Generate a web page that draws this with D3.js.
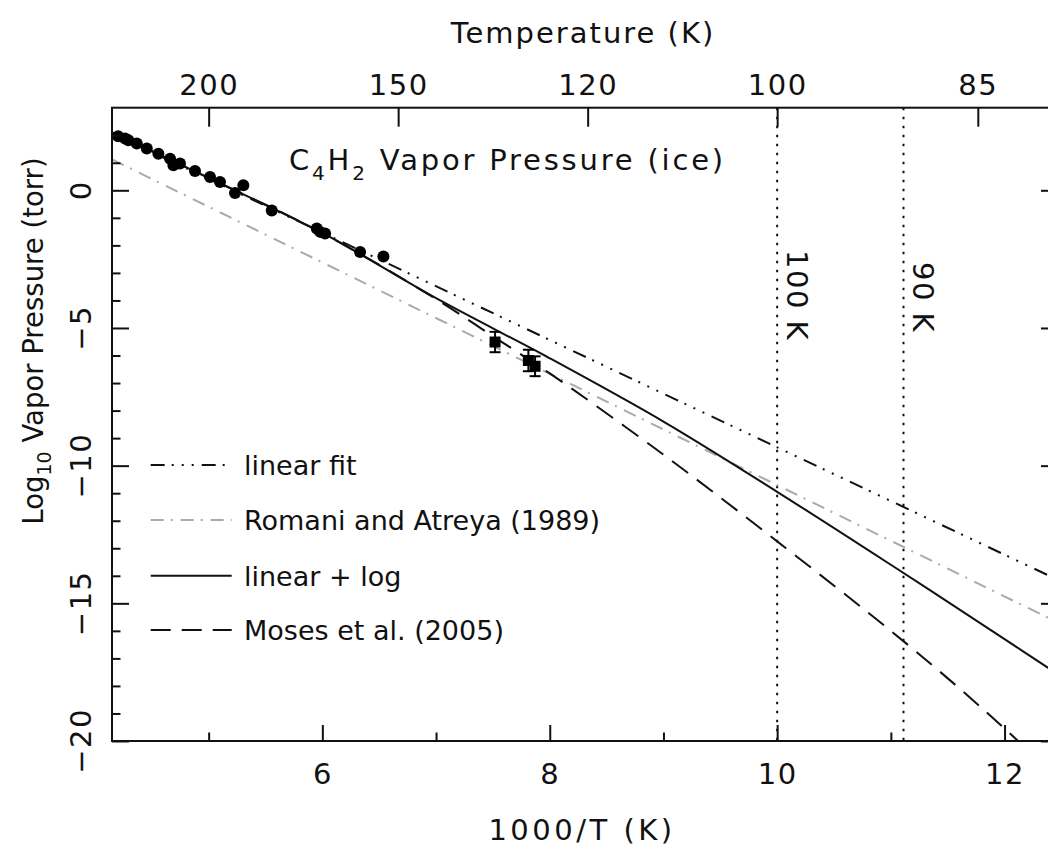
<!DOCTYPE html>
<html>
<head>
<meta charset="utf-8">
<script src="https://cdn.jsdelivr.net/npm/d3@7"></script>
<style>
  html, body { margin: 0; padding: 0; background: #fff; }
  svg { display: block; }
  text { font-family: "DejaVu Sans", sans-serif; fill: #111; }
</style>
</head>
<body>
<svg id="chart" width="1048" height="859"></svg>
<script>
// Measured vapour pressure of C4H2 ice (x = 1000/T, y = log10 P in torr)
const labX = [4.204, 4.265, 4.294, 4.368, 4.456, 4.558, 4.661, 4.690, 4.748, 4.880,
              5.012, 5.100, 5.232, 5.305, 5.555, 5.951, 5.980, 6.024, 6.332, 6.537];
const labY = [1.96, 1.88, 1.82, 1.70, 1.52, 1.33, 1.15, 0.91, 0.97, 0.70,
              0.48, 0.30, -0.10, 0.18, -0.73, -1.39, -1.51, -1.57, -2.24, -2.40];

// Low-temperature measurements with error bars
const lowX = [7.519, 7.812, 7.871];
const lowY = [-5.51, -6.18, -6.39];
const lowErr = [0.37, 0.39, 0.36];

// Fitted and published vapour-pressure curves
const linearFitX = [4.15, 12.47];
const linearFitY = [2.07, -14.15];
const romaniX = [4.15, 12.47];
const romaniY = [1.12, -15.7];
const linLogX = [4.15, 5, 6, 7, 8, 9, 10, 11, 12, 12.47];
const linLogY = [2.1, 0.45, -1.55, -3.92, -6.1, -8.4, -10.95, -13.6, -16.3, -17.58];
const mosesX = [4.15, 5, 6, 7, 7.5, 8, 9, 10, 11, 11.62, 12.04, 12.3];
const mosesY = [2.1, 0.45, -1.55, -3.95, -5.3, -6.65, -9.6, -12.75, -16.0, -18.15, -19.7, -20.7];

// Axis ticks
const bottomMajor = [6, 8, 10, 12];
const bottomMinor = [5, 7, 9, 11];
const leftMajor = [0, -5, -10, -15, -20];
const leftMinor = d3.range(-19, 3).filter(v => v % 5 !== 0);
const tempTicks = [200, 150, 120, 100, 85];
const markerTemps = [100, 90];
const markerLabels = ["100 K", "90 K"];

const legendNames = ["linear fit", "Romani and Atreya (1989)", "linear + log", "Moses et al. (2005)"];

const svg = d3.select("#chart");
const plotL = 112, plotT = 107.7, plotR = 1058, plotB = 741;

const x = d3.scaleLinear().domain([4.15, 12.47]).range([plotL, plotR]);
const y = d3.scaleLinear().domain([-20, 3]).range([plotB, plotT]);

const styles = {
  linearFit: { color: "#111", dash: "14,7,2,8,2,8,2,8" },
  romani: { color: "#aaaaaa", dash: "13,7,2,8" },
  linLog: { color: "#111", dash: null },
  moses: { color: "#111", dash: "20,11" }
};

svg.append("defs").append("clipPath").attr("id", "plotClip")
  .append("rect").attr("x", plotL).attr("y", plotT)
  .attr("width", plotR - plotL).attr("height", plotB - plotT);

const plot = svg.append("g").attr("clip-path", "url(#plotClip)");

// Reference temperatures
markerTemps.forEach(t => {
  const px = x(1000 / t);
  plot.append("line")
    .attr("x1", px).attr("x2", px).attr("y1", plotT).attr("y2", plotB)
    .attr("stroke", "#111").attr("stroke-width", 2)
    .attr("stroke-dasharray", "2.5,6.5");
});

const line = d3.line().x(d => x(d[0])).y(d => y(d[1])).curve(d3.curveCatmullRom);

function drawCurve(xs, ys, st) {
  const path = plot.append("path")
    .datum(xs.map((v, i) => [v, ys[i]]))
    .attr("d", line)
    .attr("fill", "none")
    .attr("stroke", st.color)
    .attr("stroke-width", 2);
  if (st.dash) path.attr("stroke-dasharray", st.dash);
}

drawCurve(romaniX, romaniY, styles.romani);
drawCurve(linearFitX, linearFitY, styles.linearFit);
drawCurve(mosesX, mosesY, styles.moses);
drawCurve(linLogX, linLogY, styles.linLog);

// Measured points
plot.selectAll("circle.lab").data(labX.map((v, i) => [v, labY[i]]))
  .enter().append("circle")
  .attr("cx", d => x(d[0])).attr("cy", d => y(d[1])).attr("r", 6)
  .attr("fill", "#000");

const low = plot.selectAll("g.low").data(lowX.map((v, i) => [v, lowY[i], lowErr[i]]))
  .enter().append("g");
low.append("line")
  .attr("x1", d => x(d[0])).attr("x2", d => x(d[0]))
  .attr("y1", d => y(d[1] + d[2])).attr("y2", d => y(d[1] - d[2]))
  .attr("stroke", "#000").attr("stroke-width", 2);
low.append("line")
  .attr("x1", d => x(d[0]) - 5.5).attr("x2", d => x(d[0]) + 5.5)
  .attr("y1", d => y(d[1] + d[2])).attr("y2", d => y(d[1] + d[2]))
  .attr("stroke", "#000").attr("stroke-width", 2);
low.append("line")
  .attr("x1", d => x(d[0]) - 5.5).attr("x2", d => x(d[0]) + 5.5)
  .attr("y1", d => y(d[1] - d[2])).attr("y2", d => y(d[1] - d[2]))
  .attr("stroke", "#000").attr("stroke-width", 2);
low.append("rect")
  .attr("x", d => x(d[0]) - 5.5).attr("y", d => y(d[1]) - 5.5)
  .attr("width", 11).attr("height", 11).attr("fill", "#000");

// Frame
svg.append("rect").attr("x", plotL).attr("y", plotT)
  .attr("width", plotR - plotL).attr("height", plotB - plotT)
  .attr("fill", "none").attr("stroke", "#111").attr("stroke-width", 2);

// Bottom axis
svg.append("g").attr("transform", `translate(0,${plotB})`)
  .call(d3.axisBottom(x).tickValues(bottomMajor).tickSize(-16).tickPadding(22).tickFormat(d3.format("d")));
svg.append("g").attr("transform", `translate(0,${plotB})`)
  .call(d3.axisBottom(x).tickValues(bottomMinor).tickSize(-8.5).tickFormat(""));

// Top axis: temperature
svg.append("g").attr("transform", `translate(0,${plotT})`)
  .call(d3.axisTop(x).tickValues(tempTicks.map(t => 1000 / t)).tickSize(-19).tickPadding(13)
    .tickFormat(v => String(Math.round(1000 / v))));

// Left axis
svg.append("g").attr("transform", `translate(${plotL},0)`)
  .call(d3.axisLeft(y).tickValues(leftMajor).tickSize(-17).tickFormat(""));
svg.append("g").attr("transform", `translate(${plotL},0)`)
  .call(d3.axisLeft(y).tickValues(leftMinor).tickSize(-8.5).tickFormat(""));
// Right axis
svg.append("g").attr("transform", `translate(${plotR},0)`)
  .call(d3.axisRight(y).tickValues(leftMajor).tickSize(-17).tickFormat(""));
svg.append("g").attr("transform", `translate(${plotR},0)`)
  .call(d3.axisRight(y).tickValues(leftMinor).tickSize(-8.5).tickFormat(""));

svg.selectAll(".domain").remove();
svg.selectAll(".tick line").attr("stroke", "#111").attr("stroke-width", 2);
svg.selectAll(".tick text").attr("font-size", 29).attr("letter-spacing", 1.5)
  .attr("font-family", "DejaVu Sans, sans-serif").attr("fill", "#111");

// Rotated left tick labels
leftMajor.forEach(v => {
  svg.append("text")
    .attr("transform", `translate(91,${y(v)}) rotate(-90)`)
    .attr("text-anchor", "middle")
    .attr("font-size", 29).attr("letter-spacing", 1.5)
    .text(v < 0 ? "\u2212" + Math.abs(v) : String(v));
});

// Axis titles
svg.append("text").attr("x", 583).attr("y", 43)
  .attr("text-anchor", "middle").attr("font-size", 29).attr("letter-spacing", 2)
  .text("Temperature (K)");
svg.append("text").attr("x", 582).attr("y", 840)
  .attr("text-anchor", "middle").attr("font-size", 29).attr("letter-spacing", 3.5)
  .text("1000/T (K)");

const yTitle = svg.append("text")
  .attr("transform", `translate(43,341) rotate(-90)`)
  .attr("text-anchor", "middle").attr("font-size", 27.5);
yTitle.append("tspan").text("Log");
yTitle.append("tspan").attr("font-size", 19).attr("dy", 8).text("10");
yTitle.append("tspan").attr("dy", -8).text(" Vapor Pressure (torr)");

// Plot title
const title = svg.append("text").attr("x", 289).attr("y", 170)
  .attr("font-size", 29).attr("letter-spacing", 2.8);
title.append("tspan").text("C");
title.append("tspan").attr("font-size", 20).attr("dy", 10).text("4");
title.append("tspan").attr("dy", -10).text("H");
title.append("tspan").attr("font-size", 20).attr("dy", 10).text("2");
title.append("tspan").attr("dy", -10).text(" Vapor Pressure (ice)");

// Reference temperature labels
markerTemps.forEach((t, i) => {
  const px = x(1000 / t);
  svg.append("text")
    .attr("transform", `translate(${px + 10},${i === 0 ? 250 : 262}) rotate(90)`)
    .attr("font-size", 29).attr("letter-spacing", 1.5).text(markerLabels[i]);
});

// Legend
const legendStyles = [styles.linearFit, styles.romani, styles.linLog, styles.moses];
const legendRows = [465, 520, 575.7, 630];
legendNames.forEach((name, i) => {
  const st = legendStyles[i];
  const ln = svg.append("line")
    .attr("x1", 150.7).attr("x2", 231.7)
    .attr("y1", legendRows[i]).attr("y2", legendRows[i])
    .attr("stroke", st.color).attr("stroke-width", 2);
  if (st.dash) ln.attr("stroke-dasharray", st.dash);
  svg.append("text").attr("x", 244).attr("y", legendRows[i] + 10)
    .attr("font-size", 27).text(name);
});
</script>
</body>
</html>
